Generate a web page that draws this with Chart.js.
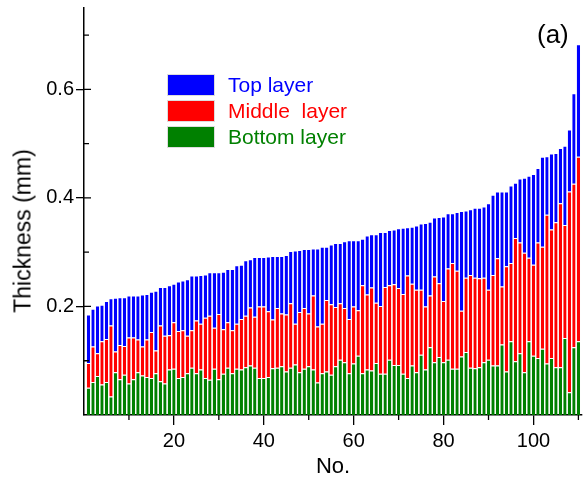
<!DOCTYPE html>
<html lang="en">
<head>
<meta charset="UTF-8">
<title>Layer thickness</title>
<style>
  body { margin: 0; background: #ffffff; }
  .wrap {
    position: relative;
    width: 584px;
    height: 482px;
    font-family: "Liberation Sans", Arial, sans-serif;
  }
  .legend { position: absolute; left: 167px; top: 74px; }
  .legend-row { display: flex; align-items: center; height: 21px; margin-bottom: 5px; }
  .legend-box { width: 46px; height: 20px; border: 1px solid #dddddd; margin-right: 13px; }
  .legend-text { font-size: 21px; white-space: pre; line-height: 21px; }
  .tag { position: absolute; left: 537px; top: 21px; font-size: 26px; line-height: 1; color: #000; }
  .y-title {
    position: absolute; left: 23px; top: 231px;
    transform: translate(-50%, -50%) rotate(-90deg);
    font-size: 23px; white-space: nowrap; color: #000;
  }
</style>
</head>
<body>
<div class="wrap">
  <canvas id="thicknessChart" width="584" height="482"></canvas>
  <div class="legend" id="legend"></div>
  <div class="y-title" id="yTitle"></div>
  <div class="tag">(a)</div>
</div>

<script src="https://cdn.jsdelivr.net/npm/chart.js"></script>
<script>
// sample numbers along the x axis (sorted by total thickness)
const sampleNo = Array.from({ length: 110 }, (_, i) => i + 1);

// thickness of each layer in mm
const bottomLayer = [
  0.050, 0.061, 0.072, 0.056, 0.061, 0.034, 0.079, 0.066, 0.074, 0.058,
  0.066, 0.079, 0.073, 0.070, 0.068, 0.077, 0.062, 0.058, 0.084, 0.085,
  0.068, 0.070, 0.077, 0.087, 0.077, 0.084, 0.068, 0.065, 0.085, 0.066,
  0.076, 0.087, 0.077, 0.085, 0.084, 0.088, 0.091, 0.087, 0.068, 0.068,
  0.070, 0.086, 0.087, 0.090, 0.080, 0.087, 0.093, 0.079, 0.085, 0.090,
  0.084, 0.060, 0.077, 0.080, 0.074, 0.090, 0.102, 0.097, 0.077, 0.095,
  0.109, 0.077, 0.084, 0.082, 0.096, 0.076, 0.076, 0.102, 0.092, 0.092,
  0.076, 0.068, 0.091, 0.079, 0.111, 0.084, 0.125, 0.097, 0.107, 0.097,
  0.102, 0.085, 0.085, 0.108, 0.116, 0.087, 0.086, 0.088, 0.097, 0.102,
  0.091, 0.091, 0.130, 0.080, 0.136, 0.099, 0.114, 0.079, 0.136, 0.109,
  0.105, 0.122, 0.095, 0.105, 0.088, 0.088, 0.142, 0.042, 0.125, 0.136
];
const middleLayer = [
  0.046, 0.065, 0.042, 0.080, 0.079, 0.131, 0.038, 0.063, 0.053, 0.085,
  0.077, 0.060, 0.053, 0.069, 0.085, 0.042, 0.103, 0.088, 0.063, 0.086,
  0.087, 0.086, 0.069, 0.069, 0.097, 0.084, 0.111, 0.118, 0.076, 0.120,
  0.082, 0.084, 0.079, 0.083, 0.093, 0.095, 0.107, 0.094, 0.132, 0.132,
  0.121, 0.090, 0.110, 0.097, 0.105, 0.119, 0.075, 0.111, 0.112, 0.097,
  0.136, 0.103, 0.091, 0.132, 0.130, 0.109, 0.104, 0.100, 0.100, 0.105,
  0.084, 0.162, 0.138, 0.153, 0.111, 0.125, 0.160, 0.137, 0.149, 0.142,
  0.147, 0.189, 0.151, 0.152, 0.120, 0.116, 0.095, 0.158, 0.136, 0.113,
  0.168, 0.195, 0.181, 0.084, 0.137, 0.171, 0.167, 0.164, 0.156, 0.129,
  0.167, 0.198, 0.107, 0.194, 0.144, 0.227, 0.204, 0.220, 0.154, 0.168,
  0.213, 0.188, 0.274, 0.237, 0.267, 0.302, 0.208, 0.370, 0.301, 0.340
];
const topLayer = [
  0.089, 0.070, 0.088, 0.067, 0.070, 0.050, 0.099, 0.088, 0.090, 0.077,
  0.077, 0.081, 0.096, 0.084, 0.074, 0.110, 0.071, 0.090, 0.092, 0.071,
  0.091, 0.092, 0.104, 0.101, 0.083, 0.090, 0.080, 0.080, 0.102, 0.077,
  0.106, 0.098, 0.113, 0.108, 0.100, 0.102, 0.089, 0.110, 0.091, 0.091,
  0.101, 0.117, 0.096, 0.106, 0.110, 0.096, 0.135, 0.114, 0.109, 0.119,
  0.087, 0.144, 0.142, 0.098, 0.110, 0.118, 0.111, 0.123, 0.145, 0.122,
  0.129, 0.086, 0.109, 0.098, 0.126, 0.136, 0.101, 0.102, 0.101, 0.110,
  0.122, 0.089, 0.105, 0.118, 0.122, 0.154, 0.136, 0.109, 0.122, 0.156,
  0.102, 0.092, 0.108, 0.184, 0.124, 0.121, 0.129, 0.130, 0.131, 0.159,
  0.148, 0.123, 0.175, 0.138, 0.143, 0.102, 0.118, 0.138, 0.151, 0.167,
  0.137, 0.166, 0.108, 0.140, 0.128, 0.102, 0.146, 0.114, 0.167, 0.207
];

const layerNames = ['Top layer', 'Middle  layer', 'Bottom layer'];
const layerColors = ['#0000ff', '#ff0000', '#008000'];

const xMajorTicks = [20, 40, 60, 80, 100];
const xMinorTicks = [10, 30, 50, 70, 90, 110];
const yMajorTicks = [0.2, 0.4, 0.6];
const yMinorTicks = [0.1, 0.3, 0.5, 0.7];

const xTitle = 'No.';
const yTitle = 'Thickness (mm)';

const fontFamily = '"Liberation Sans", Arial, sans-serif';

document.getElementById('yTitle').textContent = yTitle;

// legend (top layer listed first, like the figure)
const legendEl = document.getElementById('legend');
layerNames.forEach((name, i) => {
  const row = document.createElement('div');
  row.className = 'legend-row';
  row.innerHTML = '<div class="legend-box" style="background:' + layerColors[i] + '"></div>' +
    '<span class="legend-text" style="color:' + layerColors[i] + '">' + name + '</span>';
  legendEl.appendChild(row);
});

// minor ticks and inward ticks that Chart.js does not draw itself
const extraTicks = {
  id: 'extraTicks',
  afterDraw(chart) {
    const { ctx, scales: { x, y } } = chart;
    ctx.save();
    ctx.strokeStyle = '#000';
    ctx.lineWidth = 1.3;
    ctx.beginPath();
    xMinorTicks.forEach(v => {
      const px = x.getPixelForValue(v);
      ctx.moveTo(px, y.bottom);
      ctx.lineTo(px, y.bottom + 5);
    });
    yMajorTicks.forEach(v => {
      const py = y.getPixelForValue(v);
      ctx.moveTo(x.left, py);
      ctx.lineTo(x.left + 7, py);
    });
    yMinorTicks.forEach(v => {
      const py = y.getPixelForValue(v);
      ctx.moveTo(x.left, py);
      ctx.lineTo(x.left + 5, py);
    });
    ctx.stroke();
    ctx.restore();
  }
};

const datasets = [
  { label: layerNames[2], data: bottomLayer, backgroundColor: layerColors[2] },
  { label: layerNames[1], data: middleLayer, backgroundColor: layerColors[1] },
  { label: layerNames[0], data: topLayer, backgroundColor: layerColors[0] }
].map(d => Object.assign(d, {
  borderWidth: { top: 1, right: 0, bottom: 0, left: 0 },
  borderColor: 'rgba(255,255,255,0.75)',
  barPercentage: 0.74,
  categoryPercentage: 1.0
}));

new Chart(document.getElementById('thicknessChart'), {
  type: 'bar',
  data: { labels: sampleNo, datasets: datasets },
  plugins: [extraTicks],
  options: {
    responsive: false,
    animation: false,
    layout: { padding: { top: 8, right: 2, left: 0, bottom: 0 } },
    plugins: { legend: { display: false }, tooltip: { enabled: false } },
    scales: {
      x: {
        type: 'linear',
        stacked: true,
        min: 0,
        max: 110.8,
        offset: false,
        afterFit: s => { s.height = 67; },
        afterBuildTicks: s => { s.ticks = xMajorTicks.map(v => ({ value: v })); },
        grid: { drawOnChartArea: false, offset: false, tickLength: 10, color: '#000', lineWidth: 1.3 },
        border: { color: '#000', width: 1.5 },
        ticks: { color: '#000', font: { size: 20, family: fontFamily }, padding: 4, maxRotation: 0, autoSkip: false },
        title: {
          display: true, text: xTitle, color: '#000',
          font: { size: 22, family: fontFamily }, padding: { top: 0, bottom: 2 }
        }
      },
      y: {
        stacked: true,
        min: 0,
        max: 0.75,
        afterFit: s => { s.width = 84; s.paddingTop = 0; s.paddingBottom = 0; },
        afterBuildTicks: s => { s.ticks = yMajorTicks.map(v => ({ value: v })); },
        grid: { drawOnChartArea: false, tickLength: 8, color: '#000', lineWidth: 1.3 },
        border: { color: '#000', width: 1.5 },
        ticks: { color: '#000', font: { size: 20, family: fontFamily }, padding: 2, callback: v => v.toFixed(1) }
      }
    }
  }
});
</script>
</body>
</html>
